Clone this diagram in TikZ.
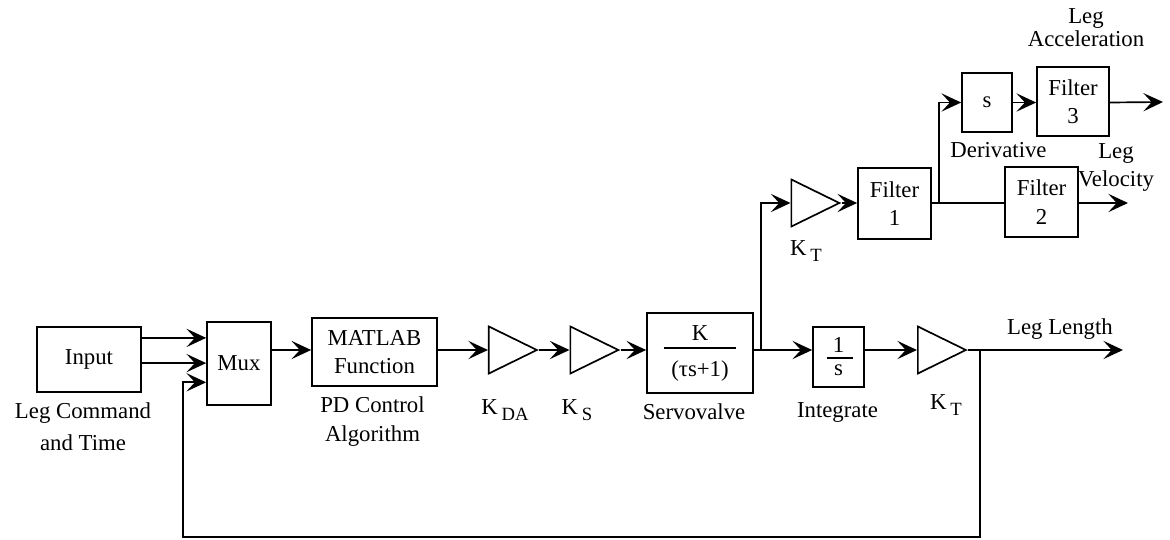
\documentclass[tikz,border=0pt]{standalone}
\usepackage{amsmath}
\usepackage{fontspec}
\setmainfont{Liberation Serif}
\usetikzlibrary{arrows.meta,shapes.geometric}
\newcommand{\lowsub}[1]{\,\raisebox{-0.6ex}{\scalebox{0.82}{#1}}}
\tikzset{sig/.style={-{Stealth[length=14pt,width=13pt,inset=6pt]}}}

\begin{document}
\begin{tikzpicture}[x=0.025cm,y=-0.025cm,line width=1.2pt,
  font=\fontsize{16.2}{20.2}\selectfont,
  block/.style={draw,inner sep=0pt,align=center},
  gain/.style={draw,isosceles triangle,isosceles triangle stretches,inner sep=0pt,minimum width=1.175cm,minimum height=1.2cm},
  txt/.style={inner sep=0pt,align=center}]
  \useasboundingbox (0,0) rectangle (1170,539);
  % blocks
  \node[block,minimum width=2.6cm,minimum height=1.625cm] (input) at (89,359.5) {Input};
  \node[block,minimum width=1.6cm,minimum height=2.075cm] (mux) at (239,363.5) {Mux};
  \node[block,minimum width=3.125cm,minimum height=1.7cm] (matlab) at (374.5,352) {MATLAB\\Function};
  \node[gain] (kda) at (503.5,350) {}; \node[gain] (ks) at (585,350) {};
  \node[block,minimum width=2.65cm,minimum height=2cm] (servo) at (700,353) {K\\[5.4pt](τs+1)};
  \node[block,minimum width=1.275cm,minimum height=1.5cm] (integ) at (838.5,357) {1\\[-3.9pt]s};
  \node[gain] (kt2) at (932.5,350) {}; \node[gain] (kt1) at (806,203) {};
  \node[block,minimum width=1.825cm,minimum height=1.775cm] (filt1) at (894.5,203.5) {Filter\\1};
  \node[block,minimum width=1.25cm,minimum height=1.475cm] (deriv) at (987,102.5) {s};
  \node[block,minimum width=1.8cm,minimum height=1.725cm] (filt3) at (1073,101.5) {Filter\\3};
  \node[block,minimum width=1.825cm,minimum height=1.75cm] (filt2) at (1041.5,202) {Filter\\2};
  \draw[line width=0.9pt] ([xshift=-0.91cm,yshift=0.125cm]servo.center) -- ([xshift=0.91cm,yshift=0.125cm]servo.center);
  \draw[line width=0.9pt] ([xshift=-0.3cm,yshift=-0.025cm]integ.center) -- ([xshift=0.36cm,yshift=-0.025cm]integ.center);
  % labels
  \node[txt,font=\fontsize{16.2}{22.5}\selectfont] (cmdlbl) at (83,427) {Leg Command\\and Time};
  \node[txt] (pdlbl) at (372.5,421.5) {PD Control\\Algorithm};
  \node[txt] (kdalbl) at (505,410) {K\lowsub{DA}};
  \node[txt] (kslbl) at (577,410) {K\lowsub{S}};
  \node[txt] (servolbl) at (694,412) {Servovalve};
  \node[txt] (integlbl) at (837.5,412) {Integrate};
  \node[txt] (kt2lbl) at (946,405) {K\lowsub{T}};
  \node[txt] (kt1lbl) at (806,251) {K\lowsub{T}};
  \node[txt] (derivlbl) at (998.5,150.5) {Derivative};
  \node[txt] (vellbl) at (1116,167.5) {Leg\\Velocity};
  \node[txt,font=\fontsize{16.2}{16.5}\selectfont] (acclbl) at (1086,27.5) {Leg\\Acceleration};
  \node[txt] (lenlbl) at (1060,329) {Leg Length};
  % junctions and ends
  \coordinate (b1) at (761,350); \coordinate (b2) at (939,203); \coordinate (b3) at (980,350);
  \coordinate (fb) at (183,537);
  \coordinate (lenout) at (1123,350); \coordinate (velout) at (1128,203); \coordinate (accout) at (1163,102);
  \coordinate (mux1) at ([yshift=0.64cm]mux.west); \coordinate (mux2) at ([yshift=0.01cm]mux.west);
  \coordinate (mux3) at ([yshift=-0.47cm]mux.west);
  % signals
  \draw[sig] (input.east |- mux1) -- (mux1); \draw[sig] (input.east |- mux2) -- (mux2);
  \draw[sig] (mux.east |- kda) -- (matlab.west |- kda);
  \draw[sig] (matlab.east |- kda) -- (kda.west); \draw[sig] (kda.east) -- (ks.west);
  \draw[sig] (ks.east) -- (servo.west |- ks);
  \draw (servo.east |- ks) -- (b1); \draw[sig] (b1) -- (integ.west |- b1);
  \draw[sig] (integ.east |- b1) -- (kt2.west);
  \draw (kt2.east) -- (b3); \draw[sig] (b3) -- (lenout);
  \draw[sig] (b3) |- (fb) |- (mux3);
  \draw[sig] (b1) |- (kt1.west); \draw[sig] (kt1.east) -- (filt1.west |- kt1);
  \draw (filt1.east |- kt1) -- (b2); \draw (b2) -- (filt2.west |- b2);
  \draw[sig] (filt2.east |- b2) -- (velout);
  \draw[sig] (b2) |- (deriv.west); \draw[sig] (deriv.east) -- (filt3.west |- deriv);
  \draw[sig] (filt3.east |- deriv) -- (accout);
\end{tikzpicture}
\end{document}
